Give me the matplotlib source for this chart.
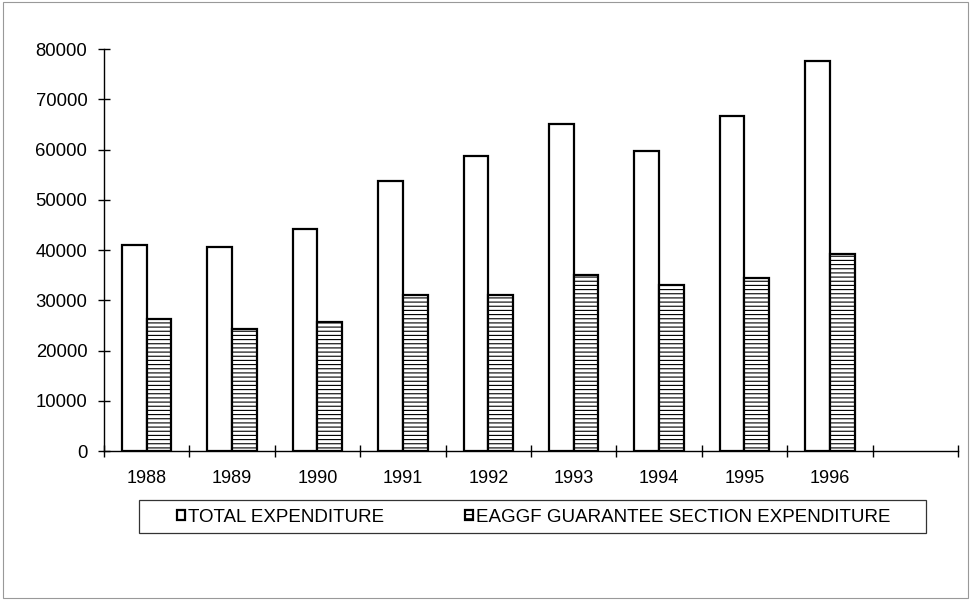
import numpy as np
import matplotlib.pyplot as plt
from matplotlib.patches import Rectangle

plt.rcParams['font.family'] = ['Liberation Sans', 'DejaVu Sans']
plt.rcParams['hatch.linewidth'] = 0.8

years = ['1988', '1989', '1990', '1991', '1992', '1993', '1994', '1995', '1996']
total_exp = [41000, 40600, 44100, 53700, 58700, 65000, 59800, 66700, 77600]
eaggf_exp = [26200, 24300, 25600, 31000, 31100, 35000, 33000, 34500, 39200]
yticks = [0, 10000, 20000, 30000, 40000, 50000, 60000, 70000, 80000]

fig = plt.figure(figsize=(9.71, 6.0), dpi=100)
ax = fig.add_axes([0.1071, 0.2483, 0.8795, 0.67])

x = np.arange(len(years))
w = 0.29
ax.bar(x - w/2, total_exp, w, color='white', edgecolor='black', linewidth=1.6,
       label='TOTAL EXPENDITURE')
ax.bar(x + w/2, eaggf_exp, w, color='white', edgecolor='black', linewidth=1.6,
       hatch='----', label='EAGGF GUARANTEE SECTION EXPENDITURE')

# 10 category slots, last one empty
ax.set_xlim(-0.5, 9.5)
ax.set_ylim(0, 80000)
ax.set_xticks(x)
ax.set_xticklabels(years)
ax.set_xticks(np.arange(-0.5, 10, 1), minor=True)
ax.tick_params(axis='x', which='major', length=0, pad=13.5, labelsize=13)
ax.tick_params(axis='x', which='minor', direction='inout', length=8, width=1)
ax.set_yticks(yticks)
ax.tick_params(axis='y', direction='inout', length=8, width=1, labelsize=13.3, pad=8)

for s in ['top', 'right']:
    ax.spines[s].set_visible(False)
for s in ['left', 'bottom']:
    ax.spines[s].set_linewidth(1.0)

fig.legend(loc='center left', bbox_to_anchor=(177/971, 1 - 517/600),
           ncol=2, fontsize=13.5, frameon=False, borderpad=0, borderaxespad=0,
           handlelength=0.45, handleheight=0.5, handletextpad=0.15,
           columnspacing=4.3)

# legend box
fig.patches.append(Rectangle((139/971, 1 - 533/600), (926 - 139)/971, 33/600,
                             transform=fig.transFigure, fill=False,
                             edgecolor='#333333', linewidth=0.9))

# outer frame
fig.patches.append(Rectangle((0.003, 0.003), 0.994, 0.994, transform=fig.transFigure,
                             fill=False, edgecolor='#999999', linewidth=0.8))

fig.savefig('out.png', dpi=100)
